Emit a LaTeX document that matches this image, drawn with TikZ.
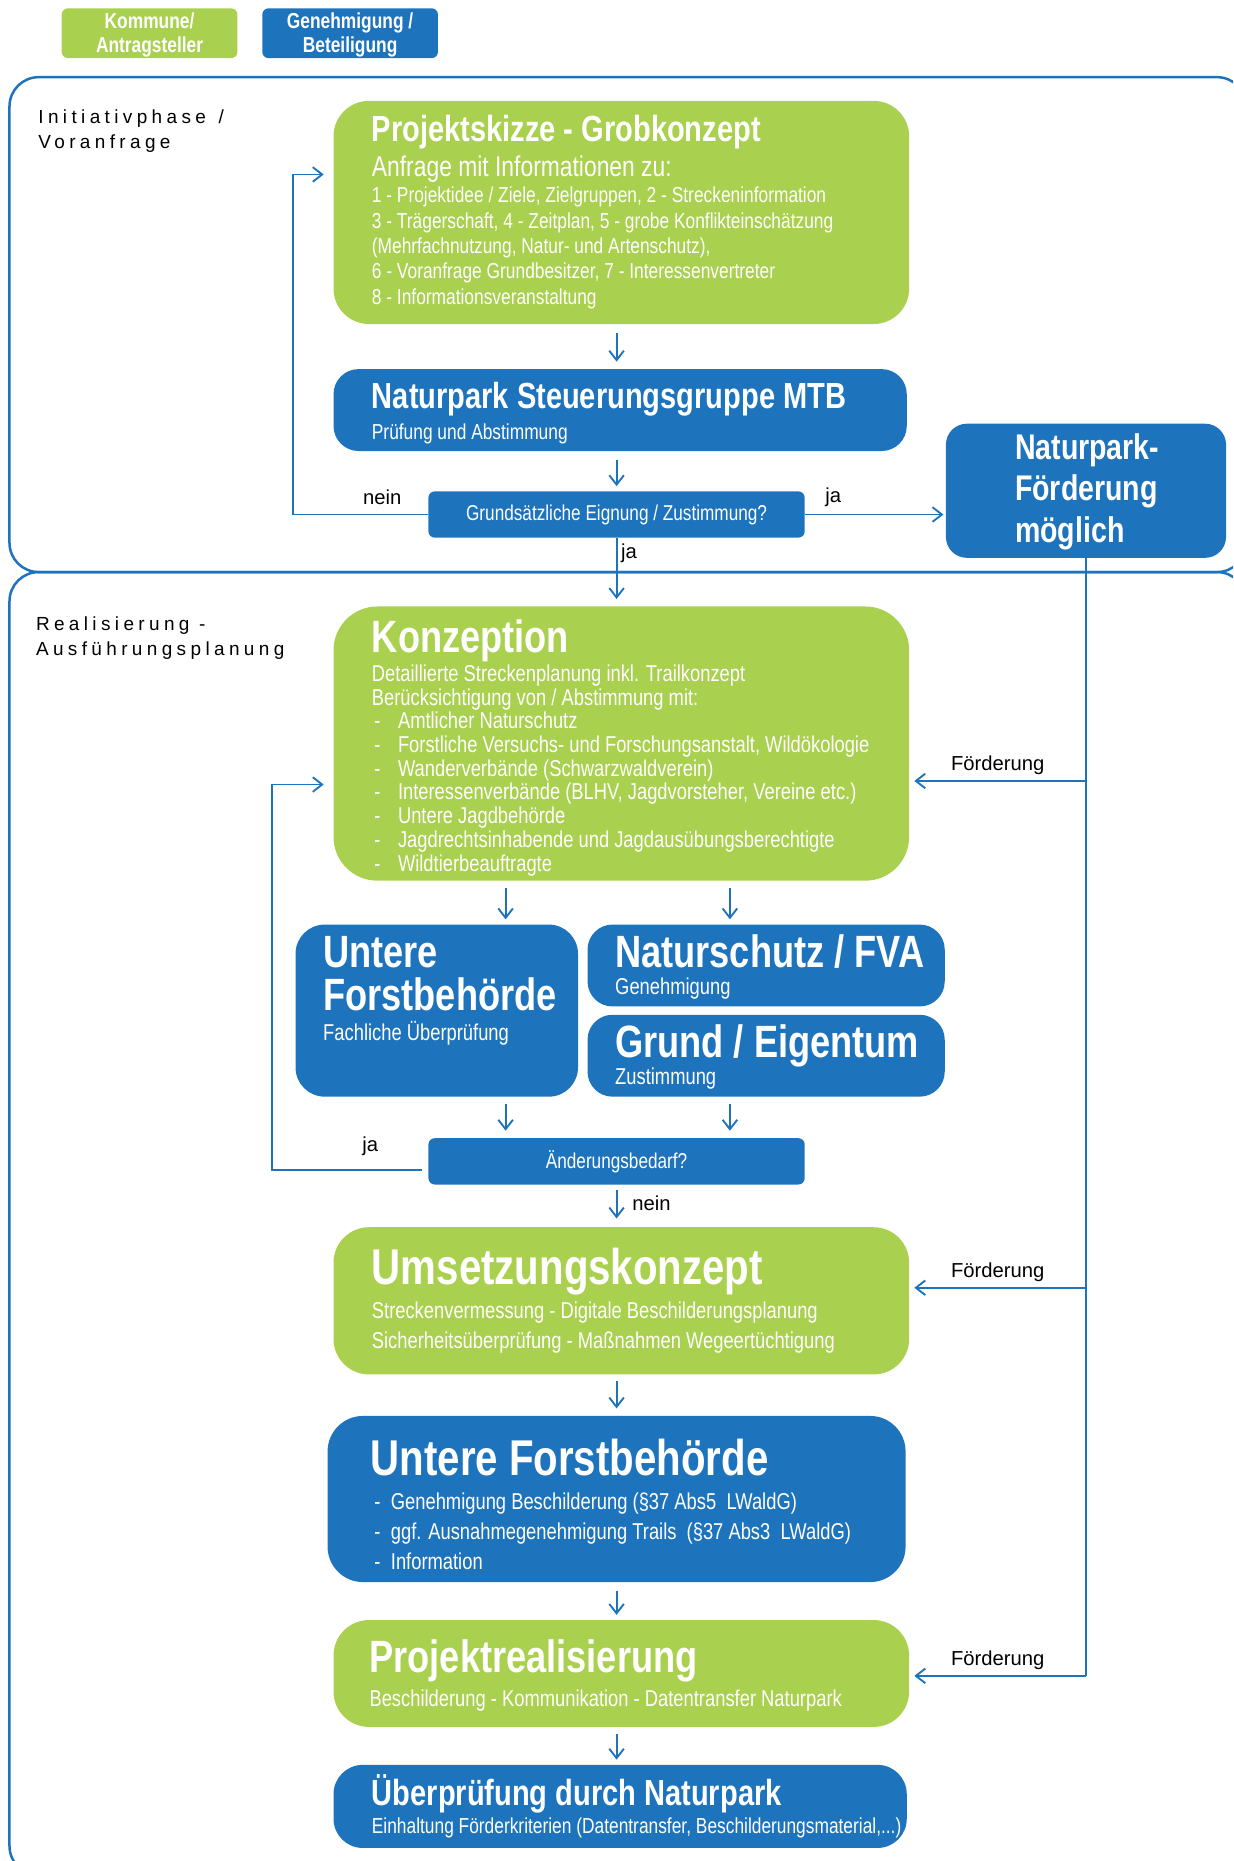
\documentclass[tikz,border=0pt]{standalone}
\usepackage{fontspec}
\setmainfont{Liberation Sans}
\newfontfamily\narrowfont[FakeStretch=0.8]{Liberation Sans}
\newfontfamily\spacedfont[LetterSpace=23]{Liberation Sans}
\usepackage{xcolor}
\usepackage{tikz}
\usetikzlibrary{arrows.meta,fit}
\definecolor{parkgreen}{RGB}{169,208,78}
\definecolor{parkblue}{RGB}{30,115,189}

\begin{document}
\begin{tikzpicture}[x=0.2mm,y=-0.2mm,
  every node/.append style={inner sep=0pt},
  gbox/.style={fill=parkgreen},
  bbox/.style={fill=parkblue},
  frame/.style={draw=parkblue,line width=1.2pt,rounded corners=14pt},
  arr/.style={draw=parkblue,line width=0.9pt,-{Straight Barb[length=4.5pt,width=7pt]}},
  trunk/.style={draw=parkblue,line width=0.9pt},
  ttlS/.style={anchor=base west,text=white,font=\narrowfont\bfseries\fontsize{17.4}{20}\selectfont},
  ttlM/.style={anchor=base west,text=white,font=\narrowfont\bfseries\fontsize{21.7}{24}\selectfont},
  ttlL/.style={anchor=base west,text=white,font=\narrowfont\bfseries\fontsize{24.1}{27}\selectfont},
  subL/.style={anchor=base west,text=white,font=\narrowfont\fontsize{13.7}{16}\selectfont},
  txtS/.style={anchor=base west,text=white,font=\narrowfont\fontsize{10.4}{12}\selectfont},
  txtM/.style={anchor=base west,text=white,font=\narrowfont\fontsize{11}{13}\selectfont},
  dectxt/.style={text=white,font=\narrowfont\fontsize{10.3}{12}\selectfont},
  legtxt/.style={text=white,align=center,yshift=-1pt,font=\narrowfont\bfseries\fontsize{10.4}{11.4}\selectfont},
  lbl/.style={font=\fontsize{9.7}{11}\selectfont},
  phase/.style={anchor=base west,font=\spacedfont\fontsize{9.1}{12}\selectfont}]
\clip (0,0) rectangle (1039,1568);

% phase frames
\draw[frame] (8,65) rectangle (1050,482);
\draw[frame] (8,482) rectangle (1050,1580);
\node[phase] (ph1a) at (32,104) {Initiativphase \,/};
\node[phase] (ph1b) at (32,125) {Voranfrage};
\node[phase] (ph2a) at (30,531) {Realisierung -};
\node[phase] (ph2b) at (30,552) {Ausführungsplanung};

% legend
\node[gbox,rounded corners=3pt,fit={(52,7) (200,49)}] (legK) {};
\node[legtxt] (legKT) at (legK) {Kommune/\\Antragsteller};
\node[bbox,rounded corners=3pt,fit={(221,7) (369,49)}] (legG) {};
\node[legtxt] (legGT) at (legG) {Genehmigung /\\Beteiligung};

% Initiativphase
\node[gbox,rounded corners=17pt,fit={(281,85) (766,273)}] (skizze) {};
\node[ttlS] (skizzeT) at (313,119) {Projektskizze - Grobkonzept};
\node[subL] (skizzeA) at (313,149) {Anfrage mit Informationen zu:};
\foreach \t [count=\i from 0] in {{1 - Projektidee / Ziele, Zielgruppen, 2 - Streckeninformation},
  {3 - Trägerschaft, 4 - Zeitplan, 5 - grobe Konflikteinschätzung},
  {(Mehrfachnutzung, Natur- und Artenschutz),},
  {6 - Voranfrage Grundbesitzer, 7 - Interessenvertreter},
  {8 - Informationsveranstaltung}}
  \node[txtS] (skizze\i) at (313,171+21.3*\i) {\t};

\node[bbox,rounded corners=12pt,fit={(281,311) (764,380)}] (steuer) {};
\node[ttlS] (steuerT) at (313,344) {Naturpark Steuerungsgruppe MTB};
\node[txtS] (steuerS) at (313,370) {Prüfung und Abstimmung};

\node[bbox,rounded corners=3pt,fit={(361,414) (678,453)}] (eignung) {};
\node[dectxt] (eignungT) at (eignung) {Grundsätzliche Eignung / Zustimmung?};

\node[bbox,rounded corners=10pt,fit={(797,357) (1033,470)}] (foerd) {};
\node[text=white,align=left,font=\narrowfont\bfseries\fontsize{17.1}{19.9}\selectfont]
  (foerdT) at (916,414) {Naturpark-\\Förderung\\möglich};

% Realisierung
\node[gbox,rounded corners=21pt,fit={(281,511) (766,742)}] (konz) {};
\node[ttlM] (konzT) at (313,550) {Konzeption};
\node[txtM] (konzA) at (313,574) {Detaillierte Streckenplanung inkl. Trailkonzept};
\node[txtM] (konzB) at (313,594) {Berücksichtigung von / Abstimmung mit:};
\foreach \t [count=\i from 0] in {Amtlicher Naturschutz,
  {Forstliche Versuchs- und Forschungsanstalt, Wildökologie},
  Wanderverbände (Schwarzwaldverein),
  {Interessenverbände (BLHV, Jagdvorsteher, Vereine etc.)},
  Untere Jagdbehörde,
  Jagdrechtsinhabende und Jagdausübungsberechtigte,
  Wildtierbeauftragte}
{
  \node[txtM] (konzD\i) at (315,614+20*\i) {-};
  \node[txtM] (konz\i) at (335,614+20*\i) {\t};
}

\node[bbox,rounded corners=14pt,fit={(249,779) (487,924)}] (ufb) {};
\node[ttlM] (ufbT) at (272,815) {Untere};
\node[ttlM] (ufbU) at (272,851) {Forstbehörde};
\node[txtM] (ufbS) at (272,877) {Fachliche Überprüfung};

\node[bbox,rounded corners=12pt,fit={(495,779) (796,848)}] (natur) {};
\node[ttlM] (naturT) at (518,815) {Naturschutz / FVA};
\node[txtM] (naturS) at (518,838) {Genehmigung};

\node[bbox,rounded corners=12pt,fit={(495,855) (796,924)}] (grund) {};
\node[ttlM] (grundT) at (518,891) {Grund / Eigentum};
\node[txtM] (grundS) at (518,914) {Zustimmung};

\node[bbox,rounded corners=3pt,fit={(361,959) (678,998)}] (aend) {};
\node[dectxt] (aendT) at (aend) {Änderungsbedarf?};

\node[gbox,rounded corners=17pt,fit={(281,1034) (766,1158)}] (umsetz) {};
\node[ttlL] (umsetzT) at (313,1082) {Umsetzungskonzept};
\node[txtM] (umsetzA) at (313,1111) {Streckenvermessung - Digitale Beschilderungsplanung};
\node[txtM] (umsetzB) at (313,1136) {Sicherheitsüberprüfung - Maßnahmen Wegeertüchtigung};

\node[bbox,rounded corners=17pt,fit={(276,1193) (763,1333)}] (ufb2) {};
\node[ttlL] (ufb2T) at (312,1243) {Untere Forstbehörde};
\foreach \t [count=\i from 0] in {Genehmigung Beschilderung (§37 Abs5~~LWaldG),
  ggf. Ausnahmegenehmigung Trails~~(§37 Abs3~~LWaldG),
  Information}
{
  \node[txtM] (ufb2D\i) at (315,1272+25*\i) {-};
  \node[txtM] (ufb2\i) at (329,1272+25*\i) {\t};
}

\node[gbox,rounded corners=17pt,fit={(281,1365) (766,1455)}] (real) {};
\node[ttlM] (realT) at (311,1409) {Projektrealisierung};
\node[txtM] (realS) at (311,1438) {Beschilderung - Kommunikation - Datentransfer Naturpark};

\node[bbox,rounded corners=14pt,fit={(281,1487) (764,1557)}] (ueber) {};
\node[ttlS] (ueberT) at (313,1521) {Überprüfung durch Naturpark};
\node[txtS] (ueberS) at (313,1545) {Einhaltung Förderkriterien (Datentransfer, Beschilderungsmaterial,...)};

% connectors
\coordinate (neinC) at (247,147);
\coordinate (jaC) at (229,661);
\coordinate (jaS) at (356,986);
\coordinate (colL) at (426,760);
\coordinate (colR) at (615,760);
\coordinate (fK) at (915,658);
\coordinate (fU) at (915,1085);
\coordinate (fR) at (915,1412);

\draw[arr,shorten <=4pt,shorten >=3.4pt] (skizze.south -| eignung) -- (steuer.north -| eignung);
\draw[arr,shorten <=4pt,shorten >=2.3pt] (steuer.south -| eignung) -- (eignung.north);
\draw[arr,shorten >=3.4pt] (eignung.south) -- (konz.north -| eignung);
\draw[arr,shorten >=4.5pt] (eignung.west) -| (neinC) -- (neinC -| skizze.west);
\draw[arr,shorten >=1pt] (eignung.east) -- (eignung.east -| foerd.west);
\node[lbl] (lblNein) at (322,419) {nein};
\node[lbl] (lblJa) at (702,419) {ja};
\node[lbl] (lblJa2) at (530,466) {ja};

\draw[trunk] (foerd.south) -- (fR);
\draw[arr,shorten >=2.3pt] (fK) -- (fK -| konz.east) node[lbl,midway,above=2.5pt] (lblF1) {Förderung};
\draw[arr,shorten >=2.3pt] (fU) -- (fU -| umsetz.east) node[lbl,midway,above=2.5pt] (lblF2) {Förderung};
\draw[arr,shorten >=2.3pt] (fR) -- (fR -| real.east) node[lbl,midway,above=2.5pt] (lblF3) {Förderung};

\draw[arr,shorten <=3.4pt,shorten >=2.3pt] (konz.south -| colL) -- (ufb.north -| colL);
\draw[arr,shorten <=3.4pt,shorten >=2.3pt] (konz.south -| colR) -- (natur.north -| colR);
\draw[arr,shorten <=3.4pt,shorten >=3.4pt] (ufb.south -| colL) -- (aend.north -| colL);
\draw[arr,shorten <=3.4pt,shorten >=3.4pt] (grund.south -| colR) -- (aend.north -| colR);
\draw[arr,shorten <=3pt,shorten >=4.5pt] (aend.west |- jaS) -| (jaC) -- (jaC -| konz.west);
\node[lbl] (lblJa3) at (312,966) {ja};

\draw[arr,shorten <=2.5pt,shorten >=4pt] (aend.south -| eignung) -- (umsetz.north -| eignung);
\node[lbl] (lblNein2) at (549,1014) {nein};
\draw[arr,shorten <=3pt,shorten >=3.4pt] (umsetz.south -| eignung) -- (ufb2.north -| eignung);
\draw[arr,shorten <=4pt,shorten >=2.3pt] (ufb2.south -| eignung) -- (real.north -| eignung);
\draw[arr,shorten <=3pt,shorten >=2.3pt] (real.south -| eignung) -- (ueber.north -| eignung);
\end{tikzpicture}
\end{document}
